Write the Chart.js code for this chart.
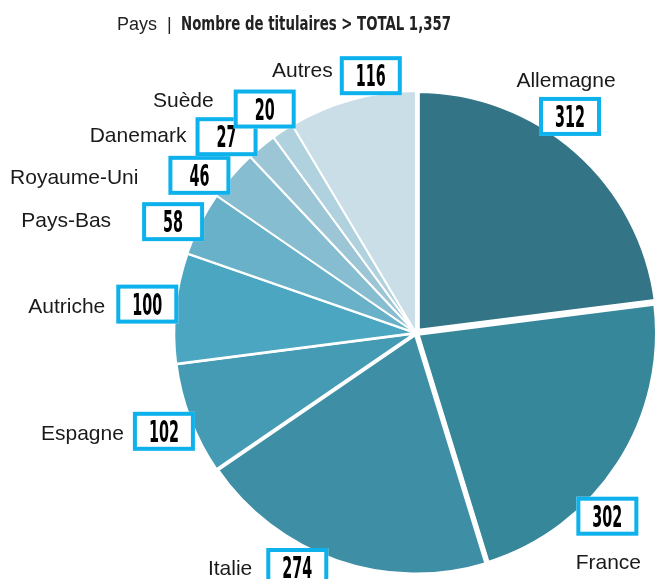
<!DOCTYPE html>
<html>
<head>
<meta charset="utf-8">
<script src="https://cdn.jsdelivr.net/npm/chart.js@4"></script>
<style>
  body { margin: 0; background: #fff; }
  #wrap { width: 660px; height: 579px; position: relative; }
</style>
</head>
<body>
<div id="wrap"><canvas id="chart"></canvas></div>
<script>
// Data
const countries = ['Allemagne', 'France', 'Italie', 'Espagne', 'Autriche', 'Pays-Bas', 'Royaume-Uni', 'Danemark', 'Suède', 'Autres'];
const holders = [312, 302, 274, 102, 100, 58, 46, 27, 20, 116];
const titleLead = 'Pays';
const titleMain = 'Nombre de titulaires > TOTAL 1,357';

// Slice styles
const sliceColors = ['#337586', '#37879a', '#3e8fa5', '#459bb3', '#4aa6c1', '#68b1c9', '#87bdd0', '#9cc6d6', '#b0d1de', '#cadee7'];
const sliceBorders = [6, 6, 5, 3, 2.5, 2, 2, 2, 2, 2];
const sliceOffsets = [5, 0, 0, 0, 0, 0, 0, 0, 0, 0];

// Label placement: box nudge from the slice's outer mid point, text anchor relative to box centre
const labelLayout = [
  { box: [-6, -35], text: [-4, -35], align: 'center' },
  { box: [-12, 52], text: [1, 47], align: 'center' },
  { box: [-39, 6], text: [-45, 2], align: 'right' },
  { box: [-26, 12], text: [-40, 3], align: 'right' },
  { box: [-28, -4], text: [-42, 3], align: 'right' },
  { box: [-27, -2], text: [-62, 0], align: 'right' },
  { box: [-33, 0], text: [-61, 3], align: 'right' },
  { box: [-35, -10], text: [-40, 0], align: 'right' },
  { box: [-18, -22], text: [-51, -8], align: 'right' },
  { box: [19, -24], text: [-38, -4], align: 'right' }
];

const boxW = 62, boxH = 39, boxLine = 4;
const cyan = '#0db1ec';
const numFont = 'bold 30px "Liberation Sans Narrow", "DejaVu Sans Condensed", sans-serif';
const labelFont = '21px "Liberation Sans", Arial, sans-serif';

const labelPlugin = {
  id: 'boxLabels',
  afterDraw(chart) {
    const ctx = chart.ctx;
    const arcs = chart.getDatasetMeta(0).data;

    // Title
    ctx.save();
    ctx.fillStyle = '#222';
    ctx.textBaseline = 'alphabetic';
    ctx.textAlign = 'left';
    ctx.font = '18px "Liberation Sans", Arial, sans-serif';
    ctx.fillText(titleLead, 117, 30);
    ctx.fillText('|', 167, 30);
    ctx.font = 'bold 19px "Liberation Sans Narrow", "DejaVu Sans Condensed", sans-serif';
    const tw = ctx.measureText(titleMain).width;
    ctx.translate(181, 30);
    ctx.scale(270 / tw, 1);
    ctx.fillText(titleMain, 0, 0);
    ctx.restore();

    // Number boxes and country names
    ctx.save();
    ctx.font = numFont;
    const numScale = 30 / ctx.measureText('312').width;
    arcs.forEach((arc, i) => {
      const p = arc.getProps(['x', 'y', 'startAngle', 'endAngle', 'outerRadius'], true);
      const mid = (p.startAngle + p.endAngle) / 2;
      const ax = p.x + Math.cos(mid) * p.outerRadius;
      const ay = p.y + Math.sin(mid) * p.outerRadius;
      const lay = labelLayout[i];
      const bx = ax + lay.box[0];
      const by = ay + lay.box[1];

      // box
      ctx.fillStyle = '#fff';
      ctx.fillRect(bx - boxW / 2, by - boxH / 2, boxW, boxH);
      ctx.strokeStyle = cyan;
      ctx.lineWidth = boxLine;
      ctx.strokeRect(bx - boxW / 2 + boxLine / 2, by - boxH / 2 + boxLine / 2, boxW - boxLine, boxH - boxLine);

      // value
      ctx.save();
      ctx.fillStyle = '#000';
      ctx.font = numFont;
      ctx.textAlign = 'center';
      ctx.textBaseline = 'middle';
      ctx.translate(bx, by + 3);
      ctx.scale(numScale, 1);
      ctx.fillText(String(holders[i]), 0, 0);
      ctx.restore();

      // country
      ctx.fillStyle = '#1a1a1a';
      ctx.font = labelFont;
      ctx.textAlign = lay.align;
      ctx.textBaseline = 'middle';
      ctx.fillText(countries[i], bx + lay.text[0], by + lay.text[1]);
    });
    ctx.restore();
  }
};

const ctx = document.getElementById('chart');
new Chart(ctx, {
  type: 'pie',
  data: {
    labels: countries,
    datasets: [{
      data: holders,
      backgroundColor: sliceColors,
      borderColor: '#ffffff',
      borderWidth: sliceBorders,
      offset: sliceOffsets
    }]
  },
  options: {
    responsive: true,
    maintainAspectRatio: false,
    animation: false,
    radius: 242,
    layout: {
      padding: { left: 176, right: 4, top: 90, bottom: 3 }
    },
    plugins: {
      legend: { display: false },
      tooltip: { enabled: false }
    }
  },
  plugins: [labelPlugin]
});
</script>
</body>
</html>
